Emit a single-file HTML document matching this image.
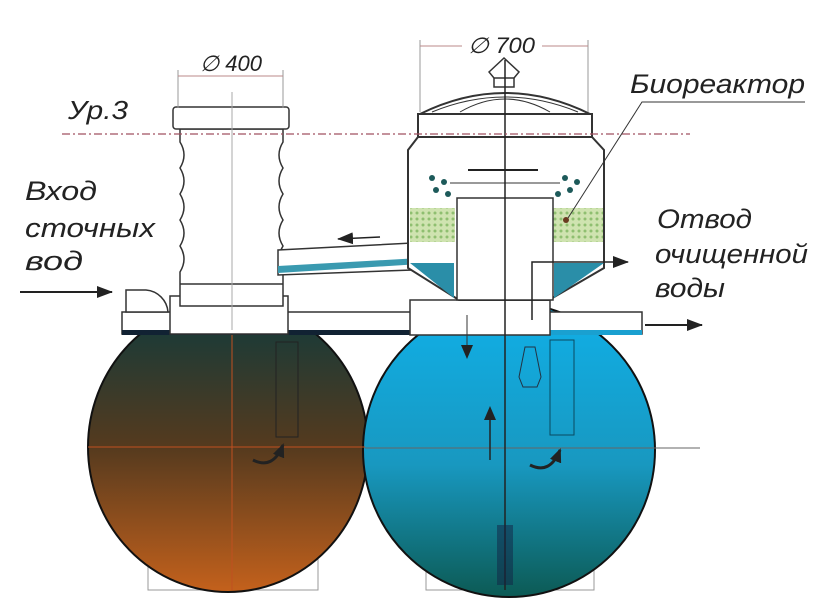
<!DOCTYPE html>
<html><head><meta charset="utf-8"><style>
html,body{margin:0;padding:0;background:#fff;width:825px;height:605px;overflow:hidden}
text{font-family:"Liberation Sans",sans-serif;font-style:italic;fill:#222}
</style></head><body>
<svg width="825" height="605" viewBox="0 0 825 605" xmlns="http://www.w3.org/2000/svg">
<defs>
<linearGradient id="gl" x1="0" y1="0" x2="0" y2="1">
<stop offset="0" stop-color="#0f3a3c"/><stop offset="0.5" stop-color="#553a1e"/><stop offset="1" stop-color="#c4611c"/></linearGradient>
<linearGradient id="gr" x1="0" y1="0" x2="0" y2="1">
<stop offset="0" stop-color="#10b0e8"/><stop offset="0.55" stop-color="#1898c0"/><stop offset="1" stop-color="#0c5a54"/></linearGradient>
<pattern id="gb" width="6" height="6" patternUnits="userSpaceOnUse"><rect width="6" height="6" fill="#cfe3b0"/><circle cx="3" cy="3" r="1.5" fill="#8fbf70"/></pattern>
<marker id="ar" markerUnits="userSpaceOnUse" markerWidth="16" markerHeight="12" refX="15" refY="6" orient="auto"><path d="M0,0L16,6L0,12z" fill="#222"/></marker>
<marker id="as" markerUnits="userSpaceOnUse" markerWidth="14" markerHeight="12" refX="12" refY="6" orient="auto"><path d="M0,0L14,6L0,12z" fill="#222"/></marker>
</defs>
<rect x="148" y="555" width="170" height="35" fill="none" stroke="#999"/>
<rect x="426" y="555" width="168" height="35" fill="none" stroke="#999"/>
<ellipse cx="228" cy="447" rx="140" ry="145" fill="url(#gl)" stroke="#111" stroke-width="2"/>
<ellipse cx="509" cy="450" rx="146" ry="147" fill="url(#gr)" stroke="#111" stroke-width="2"/>
<line x1="88" y1="447" x2="365" y2="447" stroke="#c05020" stroke-width="1"/>
<line x1="232" y1="330" x2="232" y2="590" stroke="#c05020" stroke-width="1"/>
<line x1="365" y1="448" x2="700" y2="448" stroke="#666" stroke-width="1"/>
<rect x="122" y="312" width="520" height="22" fill="#fff" stroke="#333" stroke-width="1.5"/>
<rect x="122" y="330" width="520" height="5" fill="#123"/>
<rect x="412" y="330" width="230" height="5" fill="#1aa0d0"/>
<rect x="410" y="300" width="140" height="35" fill="#fff" stroke="#333" stroke-width="1.5"/>
<rect x="170" y="296" width="118" height="38" fill="#fff" stroke="#333" stroke-width="1.5"/>
<path d="M126,290 h20 a24,24 0 0 1 22,22 h-42z" fill="#fff" stroke="#333" stroke-width="1.5"/>
<path d="M180,129 v13 q8,13 0,26 q8,13 0,26 q8,13 0,26 q8,13 0,26 q8,13 0,26 v34 h103 v-34 q-8,-13 0,-26 q-8,-13 0,-26 q-8,-13 0,-26 q-8,-13 0,-26 q-8,-13 0,-26 v-13z" fill="#fff" stroke="#333" stroke-width="1.5"/>
<line x1="180" y1="284" x2="283" y2="284" stroke="#333" stroke-width="1.5"/>
<rect x="173" y="107" width="116" height="22" rx="3" fill="#fff" stroke="#333" stroke-width="1.5"/>
<line x1="232" y1="92" x2="232" y2="330" stroke="#aaa"/>
<rect x="276" y="342" width="22" height="95" fill="none" stroke="#222"/>
<rect x="550" y="340" width="24" height="95" fill="none" stroke="#0a4a60"/>
<path d="M278,250 L412,243 L412,270 L278,275z" fill="#fff" stroke="#333" stroke-width="1.5"/>
<path d="M278,266 L420,258 L420,264 L278,273z" fill="#3a9ab0"/>
<line x1="380" y1="237" x2="338" y2="239" stroke="#222" stroke-width="1.5" marker-end="url(#ar)"/>
<path d="M408,150 l10,-13 h174 l12,13 v118 l-55,32 h-90 l-51,-32z" fill="#fff" stroke="#333" stroke-width="2"/>
<path d="M410,263 h44 v35 z" fill="#2a8ea8"/>
<path d="M554,263 h50 l-50,35z" fill="#2a8ea8"/>
<rect x="410" y="208" width="45" height="34" fill="url(#gb)"/>
<rect x="553" y="208" width="50" height="34" fill="url(#gb)"/>
<rect x="457" y="198" width="96" height="102" fill="#fff" stroke="#333" stroke-width="1.5"/>
<rect x="418" y="114" width="174" height="23" fill="#fff" stroke="#333" stroke-width="2"/>
<path d="M420,114 Q505,72 590,114z" fill="#fff" stroke="#333" stroke-width="2"/>
<path d="M432,112 Q505,82 578,112" fill="none" stroke="#333"/>
<path d="M460,112 Q505,86 550,112" fill="none" stroke="#333"/>
<rect x="494" y="75" width="20" height="12" fill="#fff" stroke="#333" stroke-width="1.5"/>
<path d="M489,72 L504,58 L519,72 L514,78 H494z" fill="#fff" stroke="#333" stroke-width="1.5"/>
<line x1="468" y1="170" x2="538" y2="170" stroke="#222" stroke-width="2"/>
<line x1="450" y1="183" x2="560" y2="183" stroke="#333"/>
<g fill="#1d5a5a"><circle cx="432" cy="178" r="3"/><circle cx="444" cy="182" r="3"/><circle cx="436" cy="190" r="3"/><circle cx="448" cy="194" r="3"/><circle cx="565" cy="178" r="3"/><circle cx="577" cy="182" r="3"/><circle cx="570" cy="190" r="3"/><circle cx="558" cy="194" r="3"/></g>
<line x1="505" y1="60" x2="505" y2="590" stroke="#222" stroke-width="1.5"/>
<path d="M532,320 V262 H628" fill="none" stroke="#222" stroke-width="1.5" marker-end="url(#ar)"/>
<path d="M253,460 q20,10 30,-15" fill="none" stroke="#222" stroke-width="3" marker-end="url(#as)"/>
<path d="M530,465 q20,10 30,-15" fill="none" stroke="#222" stroke-width="3" marker-end="url(#as)"/>
<line x1="490" y1="460" x2="490" y2="408" stroke="#222" stroke-width="1.5" marker-end="url(#as)"/>
<line x1="467" y1="315" x2="467" y2="357" stroke="#333" stroke-width="1" marker-end="url(#as)"/>
<path d="M525,347 h10 l6,30 l-4,10 h-14 l-4,-10z" fill="none" stroke="#234"/>
<rect x="497" y="525" width="16" height="60" fill="#124" opacity="0.5"/>
<line x1="645" y1="325" x2="702" y2="325" stroke="#222" stroke-width="2" marker-end="url(#ar)"/>
<line x1="20" y1="292" x2="112" y2="292" stroke="#222" stroke-width="2" marker-end="url(#ar)"/>
<line x1="62" y1="134" x2="690" y2="134" stroke="#a05060" stroke-width="1.2" stroke-dasharray="8,3,2,3"/>
<line x1="178" y1="70" x2="178" y2="108" stroke="#999"/><line x1="283" y1="70" x2="283" y2="108" stroke="#999"/>
<line x1="178" y1="76" x2="283" y2="76" stroke="#b88"/>
<line x1="420" y1="40" x2="420" y2="112" stroke="#999"/><line x1="588" y1="40" x2="588" y2="112" stroke="#999"/>
<line x1="420" y1="46" x2="462" y2="46" stroke="#b88"/><line x1="542" y1="46" x2="588" y2="46" stroke="#b88"/>
<text x="200" y="71" font-size="22" textLength="62" lengthAdjust="spacingAndGlyphs">∅ 400</text>
<text x="468" y="53" font-size="22" textLength="67" lengthAdjust="spacingAndGlyphs">∅ 700</text>
<text x="68" y="119" font-size="26" textLength="60" lengthAdjust="spacingAndGlyphs">Ур.3</text>
<text x="25" y="200" font-size="27" textLength="72" lengthAdjust="spacingAndGlyphs">Вход</text>
<text x="25" y="237" font-size="27" textLength="130" lengthAdjust="spacingAndGlyphs">сточных</text>
<text x="25" y="270" font-size="27" textLength="58" lengthAdjust="spacingAndGlyphs">вод</text>
<text x="630" y="93" font-size="27" textLength="175" lengthAdjust="spacingAndGlyphs">Биореактор</text>
<polyline points="805,102 642,102 568,218" fill="none" stroke="#333"/>
<circle cx="566" cy="220" r="3" fill="#6a3a20"/>
<text x="657" y="228" font-size="27" textLength="95" lengthAdjust="spacingAndGlyphs">Отвод</text>
<text x="655" y="263" font-size="27" textLength="153" lengthAdjust="spacingAndGlyphs">очищенной</text>
<text x="655" y="297" font-size="27" textLength="70" lengthAdjust="spacingAndGlyphs">воды</text>
</svg>
</body></html>
